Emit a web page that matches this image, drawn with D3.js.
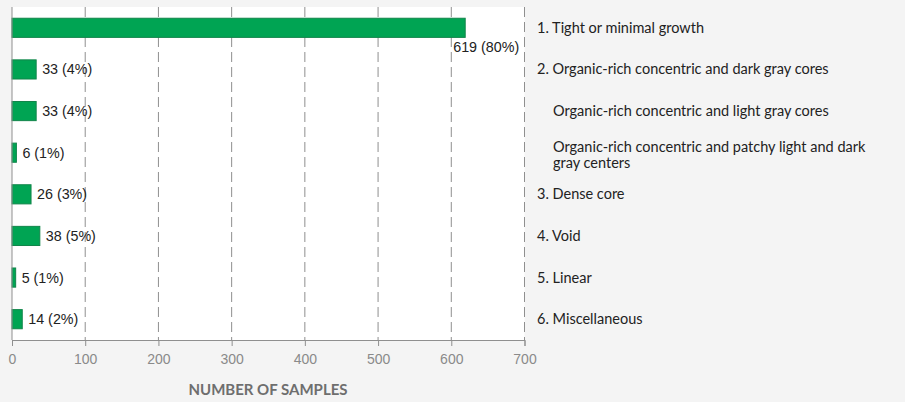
<!DOCTYPE html>
<html><head><meta charset="utf-8">
<script src="https://cdn.jsdelivr.net/npm/d3@7"></script>
<style>
html,body{margin:0;padding:0;background:#f4f4f4;}
svg{display:block;}
</style></head>
<body><svg id="c" width="905" height="402"></svg>
<script>
const categories = [
  ["1. Tight or minimal growth"],
  ["2. Organic-rich concentric and dark gray cores"],
  ["Organic-rich concentric and light gray cores"],
  ["Organic-rich concentric and patchy light and dark", "gray centers"],
  ["3. Dense core"],
  ["4. Void"],
  ["5. Linear"],
  ["6. Miscellaneous"]
];
const indented = [false, false, true, true, false, false, false, false];
const counts = [619, 33, 33, 6, 26, 38, 5, 14];
const percents = [80, 4, 4, 1, 3, 5, 1, 2];
const xTicks = [0, 100, 200, 300, 400, 500, 600, 700];
const axisTitle = "NUMBER OF SAMPLES";

(function(){
const svg = d3.select("#c");
const mLeft = 12, mRight = 524.5, mTop = 7, mBottom = 340;
const x = d3.scaleLinear().domain([0, 700]).range([mLeft, mRight]);
const y = d3.scaleBand().domain(d3.range(counts.length)).range([mTop, mBottom]).paddingInner(0.54).paddingOuter(0.27);

svg.append("rect").attr("x", mLeft).attr("y", mTop).attr("width", mRight-mLeft).attr("height", mBottom-mTop).attr("fill", "#fff");

svg.append("g").selectAll("line").data(xTicks.slice(1)).join("line")
  .attr("x1", d => x(d)).attr("x2", d => x(d)).attr("y1", mTop).attr("y2", mBottom)
  .attr("stroke", "#8f8f8f").attr("stroke-width", 1).attr("stroke-dasharray", "10,5");

svg.append("g").selectAll("rect").data(counts).join("rect")
  .attr("x", x(0)).attr("y", (d,i) => y(i)).attr("width", d => x(d) - x(0)).attr("height", y.bandwidth())
  .attr("fill", "#00a453").attr("stroke", "#11854a").attr("stroke-width", 1);

svg.append("g").selectAll("text").data(counts).join("text")
  .attr("x", (d,i) => i === 0 ? x(d) - 12 : x(d) + 6)
  .attr("y", (d,i) => i === 0 ? y(i) + y.bandwidth() + 15 : y(i) + y.bandwidth()/2 + 5)
  .attr("font-family", "Liberation Sans, Arial, sans-serif").attr("font-size", 14.3).attr("fill", "#222")
  .text((d,i) => `${d} (${percents[i]}%)`);

const ax = svg.append("g").attr("transform", `translate(0,${mBottom})`)
  .call(d3.axisBottom(x).tickValues(xTicks).tickSize(6).tickPadding(8));
ax.select(".domain").attr("stroke", "#8f8f8f");
ax.selectAll(".tick line").attr("stroke", "#8f8f8f");
ax.selectAll(".tick text").attr("font-family", "Liberation Sans, Arial, sans-serif").attr("font-size", 14).attr("fill", "#8a8a8a");
svg.append("line").attr("x1", mLeft).attr("x2", mLeft).attr("y1", mTop).attr("y2", mBottom).attr("stroke", "#8f8f8f");

svg.append("text").attr("x", 268).attr("y", 395).attr("text-anchor", "middle")
  .attr("font-family", "Lato, sans-serif").attr("font-weight", "bold").attr("font-size", 15).attr("fill", "#6e6e6e")
  .text(axisTitle);

const lg = svg.append("g");
categories.forEach((lines, i) => {
  const lx = indented[i] ? 553 : 537;
  const t = lg.append("text")
    .attr("x", lx)
    .attr("y", y(i) + y.bandwidth()/2 + 5 - (lines.length - 1) * 6)
    .attr("font-family", "Lato, sans-serif").attr("font-size", 14.5).attr("fill", "#222");
  lines.forEach((l, j) => t.append("tspan").attr("x", lx).attr("dy", j === 0 ? 0 : 16).text(l));
});
})();
</script></body></html>
